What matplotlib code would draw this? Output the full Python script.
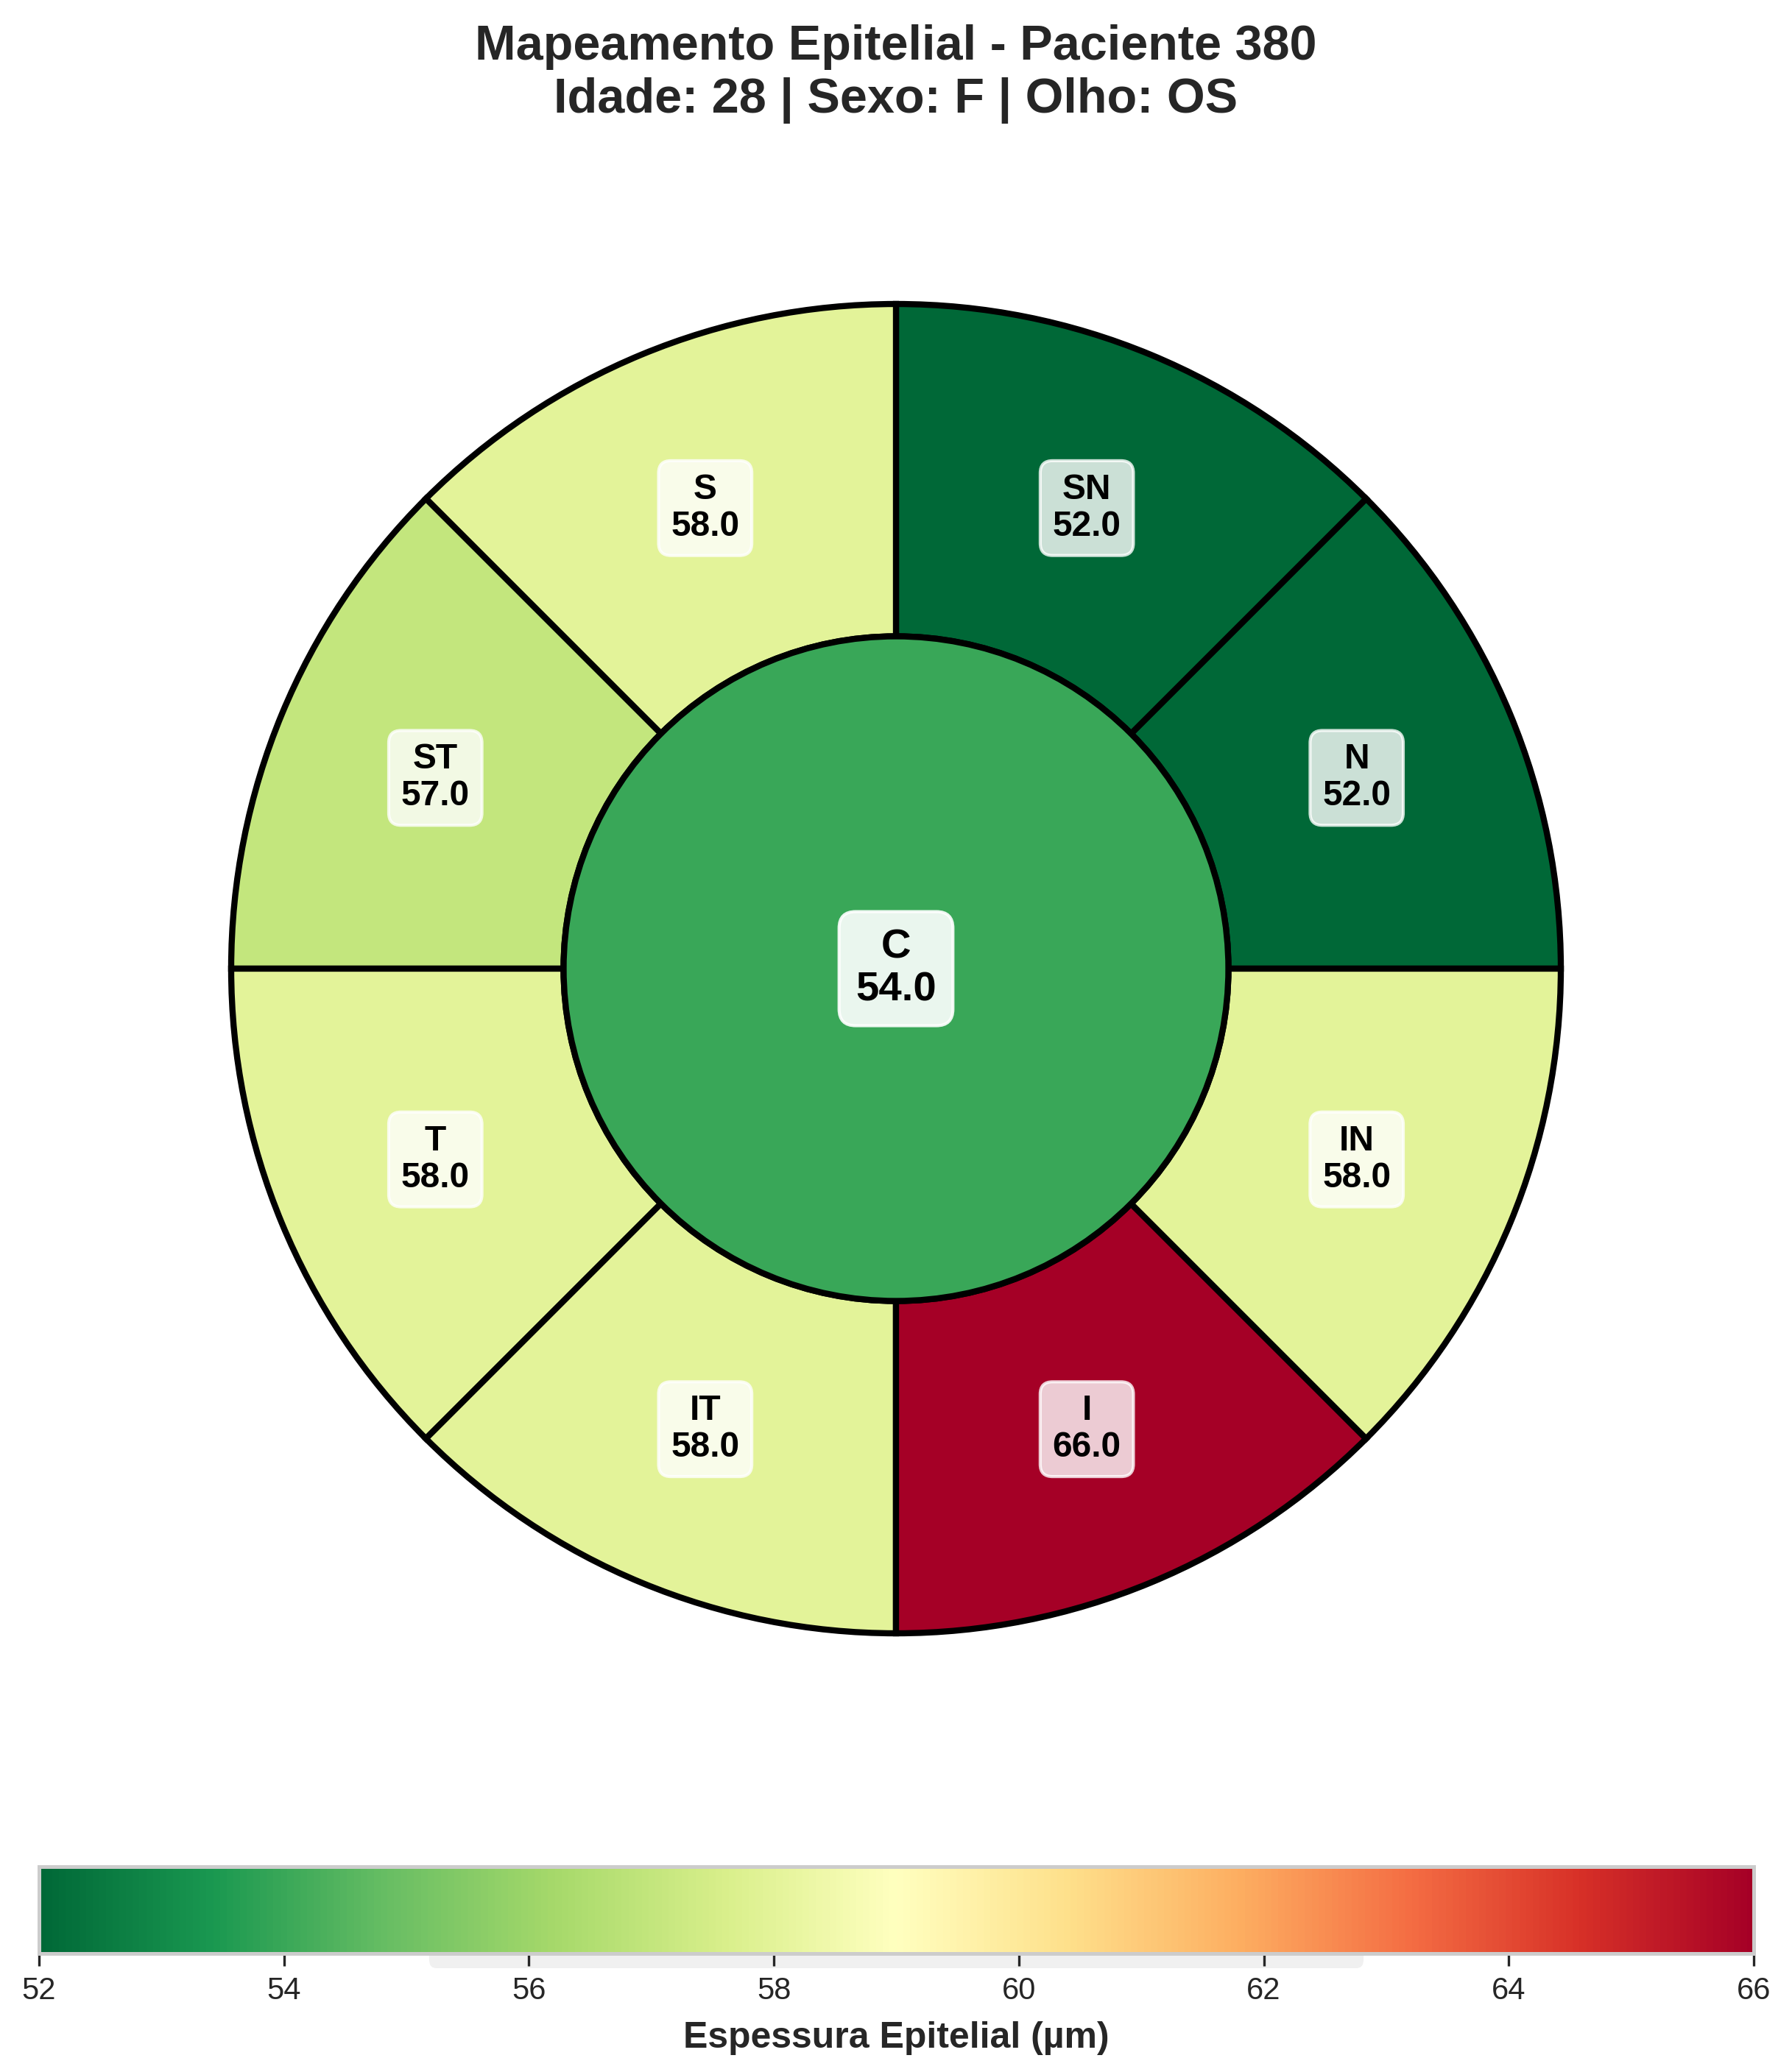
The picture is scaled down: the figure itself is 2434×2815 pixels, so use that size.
import matplotlib
matplotlib.use("Agg")
import matplotlib.pyplot as plt
import numpy as np
from matplotlib.patches import Wedge, Circle, FancyBboxPatch
from matplotlib.colors import Normalize
from matplotlib import cm

plt.rcParams['font.family'] = ['Liberation Sans', 'DejaVu Sans']

# ---- data ----
sectors = ["N", "SN", "S", "ST", "T", "IT", "I", "IN"]
sector_values = [52.0, 52.0, 58.0, 57.0, 58.0, 58.0, 66.0, 58.0]
center_label = "C"
center_value = 54.0
vmin, vmax = 52, 66
cbar_ticks = [52, 54, 56, 58, 60, 62, 64, 66]
title = "Mapeamento Epitelial - Paciente 380\nIdade: 28 | Sexo: F | Olho: OS"
cbar_label = "Espessura Epitelial (µm)"

W, H, DPI = 2434, 2815, 300
fig = plt.figure(figsize=(W / DPI, H / DPI), dpi=DPI)

cmap = matplotlib.colormaps['RdYlGn_r']
norm = Normalize(vmin=vmin, vmax=vmax)

# main axes placed so circle centre at (1217,1316) px, R = 903 px
cx, cy, R = 1217, 1316, 903
lim = 1.05
half = lim * R
ax = fig.add_axes([(cx - half) / W, 1 - (cy + half) / H, 2 * half / W, 2 * half / H])
ax.set_xlim(-lim, lim)
ax.set_ylim(-lim, lim)
ax.set_aspect('equal')
ax.axis('off')

r_out, r_in = 1.0, 0.5
for i, (name, val) in enumerate(zip(sectors, sector_values)):
    t1, t2 = i * 45, (i + 1) * 45
    w = Wedge((0, 0), r_out, t1, t2, width=r_out - r_in,
              facecolor=cmap(norm(val)), edgecolor='black', linewidth=2, zorder=2)
    ax.add_patch(w)
    mid = np.deg2rad((t1 + t2) / 2)
    rr = 0.75
    ax.text(rr * np.cos(mid), rr * np.sin(mid), f"{name}\n{val:.1f}",
            ha='center', va='center', fontsize=11.5, fontweight='bold', color='black',
            linespacing=1.15, zorder=5,
            bbox=dict(boxstyle='round,pad=0.35', facecolor='white', edgecolor='white',
                      alpha=0.8, linewidth=1))

ax.add_patch(Circle((0, 0), r_in, facecolor=cmap(norm(center_value)),
                    edgecolor='black', linewidth=2, zorder=3))
ax.text(0, 0, f"{center_label}\n{center_value:.1f}", ha='center', va='center',
        fontsize=13.5, fontweight='bold', color='black', linespacing=1.15, zorder=5,
        bbox=dict(boxstyle='round,pad=0.4', facecolor='white', edgecolor='white',
                  alpha=0.9, linewidth=1))

fig.suptitle(title, fontsize=16, fontweight='bold', color='#262626', y=1 - 33 / H,
             va='top', linespacing=1.2)

# grey rounded panel behind the colourbar
panel = FancyBboxPatch((583 / W, 1 - 2674 / H), (1852 - 583) / W, 60 / H,
                       boxstyle='round,pad=0,rounding_size=0.004',
                       transform=fig.transFigure, facecolor='#f0f0f0',
                       edgecolor='none', zorder=-1)
fig.patches.append(panel)

# colourbar
cax = fig.add_axes([53 / W, 1 - 2654 / H, (2382 - 53) / W, 118 / H])
sm = cm.ScalarMappable(norm=norm, cmap=cmap)
cb = fig.colorbar(sm, cax=cax, orientation='horizontal')
cb.set_ticks(cbar_ticks)
cb.outline.set_edgecolor('#cccccc')
cb.outline.set_linewidth(1.2)
cax.tick_params(axis='x', labelsize=10, colors='#262626', length=4, width=0.8,
                direction='out', pad=3.5)
cb.set_label(cbar_label, fontsize=12, fontweight='bold', color='#262626', labelpad=5)

fig.savefig("out.png", dpi=DPI)
